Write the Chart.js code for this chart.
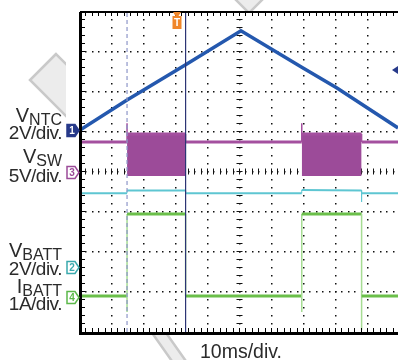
<!DOCTYPE html>
<html>
<head>
<meta charset="utf-8">
<script src="https://cdn.jsdelivr.net/npm/chart.js@4.4.1/dist/chart.umd.min.js"></script>
<style>
  body { margin: 0; background: #fff; }
  #wrap { position: relative; width: 398px; height: 360px; overflow: hidden;
          font-family: "Liberation Sans", Arial, sans-serif; color: #2b2b2b; }
  canvas { position: absolute; left: 0; top: 0; }
  .lbl { position: absolute; right: 336px; white-space: nowrap; font-size: 20px; line-height: 20px; }
  .lbl sub { font-size: 16px; vertical-align: baseline; position: relative; top: 3px; }
  .per { font-size: 19px; letter-spacing: -0.5px; }
  #xlbl { position: absolute; left: 200px; top: 341px; font-size: 19.5px; line-height: 20px; white-space: nowrap; }
</style>
</head>
<body>
<div id="wrap">
  <canvas id="scope" width="398" height="360"></canvas>
  <div class="lbl" style="top:105px">V<sub>NTC</sub></div>
  <div class="lbl per" style="top:123px">2V/div.</div>
  <div class="lbl" style="top:146px">V<sub>SW</sub></div>
  <div class="lbl per" style="top:166px">5V/div.</div>
  <div class="lbl" style="top:240px">V<sub>BATT</sub></div>
  <div class="lbl per" style="top:259px">2V/div.</div>
  <div class="lbl" style="top:276px">I<sub>BATT</sub></div>
  <div class="lbl per" style="top:294px">1A/div.</div>
  <div id="xlbl">10ms/div.</div>
</div>
<script>
// time in ms (10 ms/div), traces in screen divisions (-4..4)
const msPerDiv = 10;

// CH1 VNTC
const ntcTime = [0, 14.7, 33.0, 50.3, 69.3, 80.3, 99.4];
const ntcDiv = [1.05, 1.8, 2.68, 3.53, 2.62, 2.1, 1.1];

// CH3 VSW (baseline and spikes), bursts filled separately
const swTime = [0, 14.7, 14.7, 14.7, 33.0, 33.0, 69.3, 69.3, 69.3, 88.0, 88.0, 99.4];
const swDiv = [0.75, 0.75, 1.22, 0.95, 0.95, 0.75, 0.75, 1.22, 0.95, 0.95, 0.75, 0.75];
const burstStart = [14.7, 69.3];
const burstEnd = [33.0, 88.0];
const burstTop = 0.95;
const burstBottom = -0.1;

// CH2 VBATT
const vbatTime = [0, 14.7, 14.7, 33.0, 33.0, 69.3, 69.3, 88.0, 88.0, 88.0, 99.4];
const vbatDiv = [-0.53, -0.53, -0.46, -0.46, -0.53, -0.53, -0.45, -0.46, -0.75, -0.53, -0.53];

// CH4 IBATT
const ibatTime = [0, 14.7, 14.7, 14.7, 33.0, 33.0, 69.3, 69.3, 69.3, 88.0, 88.0, 88.0, 99.4];
const ibatDiv = [-3.1, -3.1, -3.5, -1.05, -1.05, -3.1, -3.1, -3.5, -1.05, -1.05, -3.95, -3.1, -3.1];

// cursors, trigger, channel ground markers
const cursorTime = [14.7, 33.0];
const triggerTime = 30.2;
const triggerLevel = 2.55;
const channelLabels = ['1', '3', '2', '4'];
const channelGround = [1.05, 0, -2.38, -3.13];

const pts = (xs, ys) => xs.map((x, i) => ({ x: x, y: ys[i] }));
const vertical = ctx => ctx.p0.parsed.x === ctx.p1.parsed.x;

const markerStyle = [
  { fill: '#273a8a', stroke: '#273a8a', text: '#fff' },
  { fill: '#fff', stroke: '#9c4b99', text: '#9c4b99' },
  { fill: '#fff', stroke: '#3aa9ad', text: '#3aa9ad' },
  { fill: '#fff', stroke: '#5cb84a', text: '#5cb84a' }
];

const scopeGrid = {
  id: 'scopeGrid',
  beforeDraw(chart) {
    const { ctx, chartArea: a } = chart;
    ctx.save();
    // faint watermark pieces around the screen
    ctx.fillStyle = '#ececec';
    ctx.strokeStyle = '#c9c9c9';
    ctx.lineWidth = 2.5;
    const piece = (p, clip) => {
      ctx.save();
      ctx.beginPath();
      ctx.rect(clip[0], clip[1], clip[2], clip[3]);
      ctx.clip();
      ctx.beginPath();
      ctx.moveTo(p[0][0], p[0][1]);
      for (let i = 1; i < p.length; i++) ctx.lineTo(p[i][0], p[i][1]);
      ctx.closePath();
      ctx.fill();
      ctx.stroke();
      ctx.restore();
    };
    piece([[56, 54], [30, 80], [68, 118], [94, 92]], [0, 0, 66, 360]);
    piece([[232, -4], [249, 13], [266, -4]], [0, 0, 398, 11]);
    piece([[150, 330], [164, 330], [188, 364], [174, 364]], [0, 334, 398, 30]);
    ctx.fillStyle = '#fff';
    ctx.fillRect(a.left, a.top, a.right - a.left, a.bottom - a.top);
    ctx.restore();
  },
  beforeDatasetsDraw(chart) {
    const { ctx, scales: { x, y } } = chart;
    ctx.save();
    ctx.fillStyle = '#111';
    // dotted graticule
    for (let d = 1; d < 10; d++) {
      const px = Math.round(x.getPixelForValue(d * msPerDiv));
      for (let m = -19; m <= 19; m++) {
        const py = Math.round(y.getPixelForValue(m / 5));
        ctx.fillRect(px - 1, py - 1, 1.5, 1.5);
      }
    }
    for (let d = -3; d <= 3; d++) {
      const py = Math.round(y.getPixelForValue(d));
      for (let m = 1; m < 50; m++) {
        const px = Math.round(x.getPixelForValue(m * msPerDiv / 5));
        ctx.fillRect(px - 1, py - 1, 1.5, 1.5);
      }
    }
    // centre axes with minor ticks
    ctx.strokeStyle = '#111';
    ctx.lineWidth = 1;
    const cx = Math.round(x.getPixelForValue(5 * msPerDiv)) - 0.5;
    const cy = Math.round(y.getPixelForValue(0)) - 0.5;
    ctx.beginPath();
    for (let m = -19; m <= 19; m++) {
      const py = Math.round(y.getPixelForValue(m / 5)) - 0.5;
      ctx.moveTo(cx - 3, py); ctx.lineTo(cx + 3, py);
    }
    for (let m = 1; m < 50; m++) {
      const px = Math.round(x.getPixelForValue(m * msPerDiv / 5)) - 0.5;
      ctx.moveTo(px, cy - 3); ctx.lineTo(px, cy + 3);
    }
    ctx.stroke();
    ctx.restore();
  },
  afterDatasetsDraw(chart) {
    const { ctx, chartArea: a, scales: { x, y } } = chart;
    ctx.save();
    ctx.strokeStyle = '#000';
    // frame
    ctx.lineWidth = 3;
    ctx.beginPath();
    ctx.moveTo(a.left + 0.5, a.top); ctx.lineTo(a.left + 0.5, a.bottom + 1.5);
    ctx.lineTo(a.right, a.bottom + 1.5);
    ctx.stroke();
    ctx.lineWidth = 2;
    ctx.beginPath();
    ctx.moveTo(a.left, a.top); ctx.lineTo(a.right, a.top);
    ctx.stroke();
    ctx.lineWidth = 1;
    ctx.beginPath();
    for (let m = -19; m <= 19; m++) {
      const py = Math.round(y.getPixelForValue(m / 5)) - 0.5;
      ctx.moveTo(a.left, py); ctx.lineTo(a.left + 5, py);
    }
    for (let m = 1; m < 50; m++) {
      const px = Math.round(x.getPixelForValue(m * msPerDiv / 5)) - 0.5;
      ctx.moveTo(px, a.top); ctx.lineTo(px, a.top + 4);
      ctx.moveTo(px, a.bottom); ctx.lineTo(px, a.bottom - 4);
    }
    ctx.stroke();

    // channel ground markers
    ctx.font = 'bold 10px "Liberation Sans", Arial, sans-serif';
    ctx.textAlign = 'center';
    ctx.textBaseline = 'middle';
    channelGround.forEach((g, i) => {
      const yc = Math.round(y.getPixelForValue(g)) + 0.5;
      const s = markerStyle[i];
      const xr = a.left - 1;
      ctx.beginPath();
      ctx.moveTo(xr - 12, yc - 6); ctx.lineTo(xr - 4, yc - 6); ctx.lineTo(xr, yc);
      ctx.lineTo(xr - 4, yc + 6); ctx.lineTo(xr - 12, yc + 6); ctx.closePath();
      ctx.fillStyle = s.fill; ctx.fill();
      ctx.lineWidth = 1.5; ctx.strokeStyle = s.stroke; ctx.stroke();
      ctx.fillStyle = s.text;
      ctx.fillText(channelLabels[i], xr - 7, yc + 0.5);
    });

    // trigger position marker
    const tx = Math.round(x.getPixelForValue(triggerTime));
    ctx.fillStyle = '#f0862a';
    ctx.beginPath();
    ctx.moveTo(tx - 4, a.top); ctx.lineTo(tx + 4, a.top); ctx.lineTo(tx + 1.5, a.top + 4);
    ctx.lineTo(tx - 1.5, a.top + 4); ctx.closePath(); ctx.fill();
    ctx.fillRect(tx - 4.5, a.top + 4, 9, 13);
    ctx.fillStyle = '#fff';
    ctx.fillText('T', tx, a.top + 11);

    // trigger level marker
    const ty = Math.round(y.getPixelForValue(triggerLevel));
    ctx.fillStyle = '#273a8a';
    ctx.beginPath();
    ctx.moveTo(a.right - 6, ty); ctx.lineTo(a.right, ty - 4); ctx.lineTo(a.right, ty + 4);
    ctx.closePath(); ctx.fill();
    ctx.restore();
  }
};

const bursts = burstStart.map((s, i) => ({
  data: [{ x: s, y: burstTop }, { x: burstEnd[i], y: burstTop }],
  borderWidth: 0,
  backgroundColor: '#9c4b99',
  fill: { value: burstBottom }
}));

new Chart(document.getElementById('scope'), {
  type: 'line',
  data: {
    datasets: [
      {
        data: pts([cursorTime[1], cursorTime[1]], [-4, 4]),
        borderColor: '#2c3474', borderWidth: 1.2
      },
      {
        data: pts([cursorTime[0], cursorTime[0]], [-4, 4]),
        borderColor: '#8e96c8', borderWidth: 1.2, borderDash: [4, 3]
      },
      {
        data: pts(ntcTime, ntcDiv),
        borderColor: '#2458ae', borderWidth: 3.5
      },
      {
        data: pts(ibatTime, ibatDiv),
        borderColor: '#6bbf4a', borderWidth: 3,
        segment: {
          borderWidth: ctx => vertical(ctx) ? 1.5 : 3,
          borderColor: ctx => vertical(ctx) ? '#a6dc93' : '#6bbf4a'
        }
      },
      {
        data: pts(vbatTime, vbatDiv),
        borderColor: '#5ec6d2', borderWidth: 2,
        segment: { borderWidth: ctx => vertical(ctx) ? 1 : 2 }
      },
      {
        data: pts(swTime, swDiv),
        borderColor: '#a4509f', borderWidth: 3,
        segment: { borderWidth: ctx => vertical(ctx) ? 1.5 : 3 }
      },
      ...bursts
    ]
  },
  options: {
    responsive: false,
    animation: false,
    layout: { padding: { left: 80, top: 12, right: 0, bottom: 28 } },
    scales: {
      x: { type: 'linear', min: 0, max: 99.375, display: false },
      y: { type: 'linear', min: -4, max: 4, display: false }
    },
    plugins: { legend: { display: false }, tooltip: { enabled: false } },
    elements: { point: { radius: 0 }, line: { tension: 0, borderCapStyle: 'butt' } }
  },
  plugins: [scopeGrid]
});
</script>
</body>
</html>
